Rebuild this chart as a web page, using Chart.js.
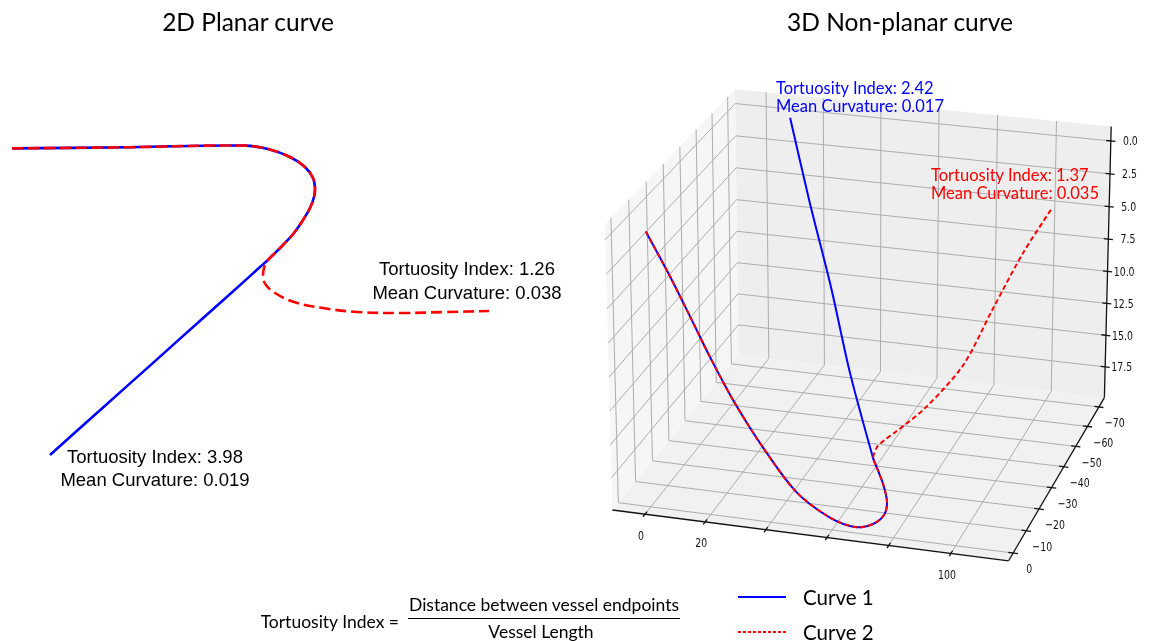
<!DOCTYPE html>
<html>
<head>
<meta charset="utf-8">
<script src="https://cdn.jsdelivr.net/npm/chart.js@4.4.1/dist/chart.umd.min.js"></script>
<style>
  html, body { margin: 0; padding: 0; background: #fff; }
  #fig { position: relative; width: 1151px; height: 641px; overflow: hidden; background: #fff; }
  canvas { position: absolute; top: 0; }
  .t { position: absolute; white-space: nowrap; line-height: 1; }
  .title { font-family: Lato, 'Open Sans', sans-serif; font-size: 24.5px; color: #000; transform: translate(-50%, -50%); }
  .ann { font-family: 'Liberation Sans', Arial, sans-serif; font-size: 18.5px; color: #000; transform: translate(-50%, -50%); }
  .ann3 { font-family: Lato, sans-serif; font-size: 16.5px; transform: translate(0, -50%); }
  .calc { font-family: Lato, sans-serif; font-size: 17.5px; color: #000; }
  .leg { font-family: Lato, sans-serif; font-size: 20.5px; color: #000; transform: translate(0, -50%); }
  .swatch { position: absolute; width: 48px; height: 1.5px; }
</style>
</head>
<body>
<div id="fig">
  <canvas id="planar" width="580" height="641" style="left:0"></canvas>
  <canvas id="spatial" width="571" height="641" style="left:580px"></canvas>

  <div class="t title" style="left:248px; top:22px">2D Planar curve</div>
  <div class="t title" style="left:900px; top:22px">3D Non-planar curve</div>

  <div class="t ann" style="left:467px; top:269px">Tortuosity Index: 1.26</div>
  <div class="t ann" style="left:467px; top:293px">Mean Curvature: 0.038</div>
  <div class="t ann" style="left:155px; top:457px">Tortuosity Index: 3.98</div>
  <div class="t ann" style="left:155px; top:480px">Mean Curvature: 0.019</div>

  <div class="t ann3" style="left:776px; top:88px; color:#0000ff">Tortuosity Index: 2.42</div>
  <div class="t ann3" style="left:776px; top:106px; color:#0000ff">Mean Curvature: 0.017</div>
  <div class="t ann3" style="left:931px; top:175px; color:#ff0000">Tortuosity Index: 1.37</div>
  <div class="t ann3" style="left:931px; top:193px; color:#ff0000">Mean Curvature: 0.035</div>

  <div class="t calc" style="left:399px; top:622px; transform:translate(-100%,-50%)">Tortuosity Index =</div>
  <div class="t calc" style="left:544px; top:605px; transform:translate(-50%,-50%)">Distance between vessel endpoints</div>
  <div style="position:absolute; left:408px; top:618px; width:272px; height:1.3px; background:#000"></div>
  <div class="t calc" style="left:541px; top:632px; transform:translate(-50%,-50%)">Vessel Length</div>

  <div class="swatch" style="left:738px; top:596px; background:#0000ff"></div>
  <div class="t leg" style="left:803px; top:597px">Curve 1</div>
  <div class="swatch" style="left:738px; top:631px; background:repeating-linear-gradient(to right, #ff0000 0 3px, transparent 3px 5px)"></div>
  <div class="t leg" style="left:803px; top:632px">Curve 2</div>
</div>

<script>
// ---------- 2D planar vessel: common trunk, then the two branches ----------
const planarTrunkX  = [0, 29.5, 58.25, 64, 69.5, 73.25, 75.25, 75.75, 75.5, 74.5, 72.75, 70.5, 67.75, 65.25, 64];
const planarTrunkY  = [77.4, 77.7, 78.1, 77.25, 75.25, 72.75, 70, 67.5, 65.25, 62.5, 59.5, 56.25, 53.25, 50.75, 49.5];
const planarCurve1X = [62, 58.25, 48, 34.5, 22, 9.5];
const planarCurve1Y = [47.75, 44.35, 35.2, 23.1, 11.95, 0.75];
const planarCurve2X = [63.2, 62.75, 63.5, 65.75, 70.5, 77.75, 86.25, 97.4, 108.5, 119.25];
const planarCurve2Y = [48.25, 45.25, 43.25, 41.25, 39, 37.5, 36.5, 36.25, 36.5, 36.75];

// ---------- 3D non-planar vessel (x, y, z) ----------
const trunkX  = [0.4, 7.4, 14.3, 20.6, 28.3, 37.5, 48.2, 59.0, 67.5, 73.3, 76.9, 77.8, 76.5, 74.2, 73.3];
const trunkY  = [0, 0, 0, 0, 0, 0, 0, 0, 0, 0, 0, 0, 0, 0, 0];
const trunkZ  = [-0.4, 2.4, 5.4, 8.2, 11.3, 14.4, 17.4, 19.0, 19.5, 19.1, 18.3, 17.3, 16.0, 14.7, 14.2];
const curve1X = [57.3, 42.4, 26.4, 10.9];
const curve1Y = [-17.5, -35, -52.5, -70];
const curve1Z = [11.0, 7.5, 3.8, 0.0];
const curve2X = [73.3, 74.7, 76.9, 82.4, 88.9, 92.3, 96.3, 100.9];
const curve2Y = [-2.6, -5.2, -8.1, -16.5, -29.5, -43.4, -58, -70];
const curve2Z = [13.8, 13.6, 13.4, 12.8, 11.4, 9.2, 6.8, 4.9];

// ---------- 3D axis ticks ----------
const xTicks3d = [0, 20, 40, 60, 80, 100];
const xTickLabels3d = ['0', '20', '', '', '', '100'];
const yTicks3d = [0, -10, -20, -30, -40, -50, -60, -70];
const yTickLabels3d = ['0', '\u221210', '\u221220', '\u221230', '\u221240', '\u221250', '\u221260', '\u221270'];
const zTicks3d = [0, 2.5, 5, 7.5, 10, 12.5, 15, 17.5];
const zTickLabels3d = ['0.0', '2.5', '5.0', '7.5', '10.0', '12.5', '15.0', '17.5'];

// axis limits of the 3D box: x left->right, y front->back, z floor->top (z is inverted)
const limits = { x: [-10.9, 118.4], y: [3.4, -74.9], z: [19.94, -1.1] };
// camera: azimuth / elevation in degrees, eye distance and box proportions (4:4:3)
const view = { azim: -73.7, elev: 22.7, dist: 4000, box: [400, 400, 300] };

function project(x, y, z) {
  const [bx, by, bz] = view.box;
  const X = ((x - limits.x[0]) / (limits.x[1] - limits.x[0]) - 0.5) * bx;
  const Y = ((y - limits.y[0]) / (limits.y[1] - limits.y[0]) - 0.5) * by;
  const Z = ((z - limits.z[0]) / (limits.z[1] - limits.z[0]) - 0.5) * bz;
  const a = view.azim * Math.PI / 180, e = view.elev * Math.PI / 180;
  const u = -Math.sin(a) * X + Math.cos(a) * Y;
  const v = -Math.sin(e) * Math.cos(a) * X - Math.sin(e) * Math.sin(a) * Y + Math.cos(e) * Z;
  const d = Math.cos(e) * Math.cos(a) * X + Math.cos(e) * Math.sin(a) * Y + Math.sin(e) * Z;
  const s = view.dist / (view.dist - d);
  return { x: u * s, y: v * s };
}

const pairs = (xs, ys) => xs.map((x, i) => ({ x, y: ys[i] }));
const projected = (xs, ys, zs) => xs.map((x, i) => project(x, ys[i], zs[i]));

function baseOptions(xr, yr) {
  return {
    responsive: false, animation: false, devicePixelRatio: 1, events: [],
    layout: { padding: 0 },
    plugins: { legend: { display: false }, tooltip: { enabled: false }, title: { display: false } },
    scales: {
      x: { type: 'linear', min: xr[0], max: xr[1], display: false },
      y: { type: 'linear', min: yr[0], max: yr[1], display: false }
    },
    elements: { point: { radius: 0 } }
  };
}

// ---------- left panel ----------
new Chart(document.getElementById('planar'), {
  type: 'scatter',
  data: {
    datasets: [
      { label: 'Curve 2', order: 0, showLine: true, fill: false, tension: 0.4,
        data: pairs(planarTrunkX.concat(planarCurve2X), planarTrunkY.concat(planarCurve2Y)),
        borderColor: '#ff0000', borderWidth: 2.6, borderDash: [11, 5], pointRadius: 0 },
      { label: 'Curve 1', order: 1, showLine: true, fill: false, tension: 0.4,
        data: pairs(planarTrunkX.concat(planarCurve1X), planarTrunkY.concat(planarCurve1Y)),
        borderColor: '#0000ff', borderWidth: 2.6, pointRadius: 0 }
    ]
  },
  options: baseOptions([-3, 142], [-45.75, 114.5])
});

// ---------- right panel: box, panes, grid and axes ----------
const axes3d = {
  id: 'axes3d',
  beforeDatasetsDraw(chart) {
    const ctx = chart.ctx, sx = chart.scales.x, sy = chart.scales.y;
    const P = (x, y, z) => { const p = project(x, y, z); return [sx.getPixelForValue(p.x), sy.getPixelForValue(p.y)]; };
    const [x0, x1] = limits.x, [yF, yB] = limits.y, [zB, zT] = limits.z;
    const path = pts => {
      ctx.beginPath();
      pts.forEach((p, i) => { const q = P(p[0], p[1], p[2]); if (i) ctx.lineTo(q[0], q[1]); else ctx.moveTo(q[0], q[1]); });
    };
    ctx.save();
    // panes
    [
      { c: '#f1f1f1', pts: [[x0, yF, zB], [x1, yF, zB], [x1, yB, zB], [x0, yB, zB]] },
      { c: '#f6f6f6', pts: [[x0, yF, zB], [x0, yB, zB], [x0, yB, zT], [x0, yF, zT]] },
      { c: '#eeeeee', pts: [[x0, yB, zB], [x1, yB, zB], [x1, yB, zT], [x0, yB, zT]] }
    ].forEach(p => { path(p.pts); ctx.closePath(); ctx.fillStyle = p.c; ctx.fill(); });

    // grid
    ctx.strokeStyle = '#adadad';
    ctx.lineWidth = 1;
    xTicks3d.forEach(x => { path([[x, yF, zB], [x, yB, zB], [x, yB, zT]]); ctx.stroke(); });
    yTicks3d.forEach(y => { path([[x1, y, zB], [x0, y, zB], [x0, y, zT]]); ctx.stroke(); });
    zTicks3d.forEach(z => { path([[x1, yB, z], [x0, yB, z], [x0, yF, z]]); ctx.stroke(); });

    // axis lines
    ctx.strokeStyle = '#111';
    ctx.lineWidth = 1.3;
    path([[x0, yF, zB], [x1, yF, zB]]); ctx.stroke();
    path([[x1, yF, zB], [x1, yB, zB]]); ctx.stroke();
    path([[x1, yB, zB], [x1, yB, zT]]); ctx.stroke();

    // tick marks
    const dy = 0.015 * (yF - yB), dx = 0.012 * (x1 - x0);
    xTicks3d.forEach(x => { path([[x, yF + dy, zB], [x, yF - dy, zB]]); ctx.stroke(); });
    yTicks3d.forEach(y => { path([[x1 - dx, y, zB], [x1 + dx, y, zB]]); ctx.stroke(); });
    zTicks3d.forEach(z => { path([[x1 - dx, yB, z], [x1 + dx, yB, z]]); ctx.stroke(); });

    // tick labels
    ctx.fillStyle = '#111';
    ctx.font = '13px "DejaVu Sans", sans-serif';
    ctx.textBaseline = 'middle';
    const label = (txt, px, py, align) => {
      if (!txt) return;
      ctx.save(); ctx.translate(px, py); ctx.scale(0.72, 1);
      ctx.textAlign = align; ctx.fillText(txt, 0, 0); ctx.restore();
    };
    xTicks3d.forEach((x, i) => { const q = P(x, yF, zB); label(xTickLabels3d[i], q[0] - 4, q[1] + 22, 'center'); });
    yTicks3d.forEach((y, i) => { const q = P(x1, y, zB); label(yTickLabels3d[i], q[0] + 16, q[1] + 17, 'center'); });
    zTicks3d.forEach((z, i) => { const q = P(x1, yB, z); label(zTickLabels3d[i], q[0] + 27, q[1] + 1, 'right'); });
    ctx.restore();
  }
};

new Chart(document.getElementById('spatial'), {
  type: 'scatter',
  data: {
    datasets: [
      { label: 'Curve 2', order: 0, showLine: true, fill: false, tension: 0.3,
        data: projected(trunkX.concat(curve2X), trunkY.concat(curve2Y), trunkZ.concat(curve2Z)),
        borderColor: '#ff0000', borderWidth: 2, borderDash: [5, 3], pointRadius: 0 },
      { label: 'Curve 1', order: 1, showLine: true, fill: false, tension: 0.3,
        data: projected(trunkX.concat(curve1X), trunkY.concat(curve1Y), trunkZ.concat(curve1Z)),
        borderColor: '#0000ff', borderWidth: 2, pointRadius: 0 }
    ]
  },
  options: baseOptions([-284.6, 283.6], [-324.4, 313.4]),
  plugins: [axes3d]
});
</script>
</body>
</html>
